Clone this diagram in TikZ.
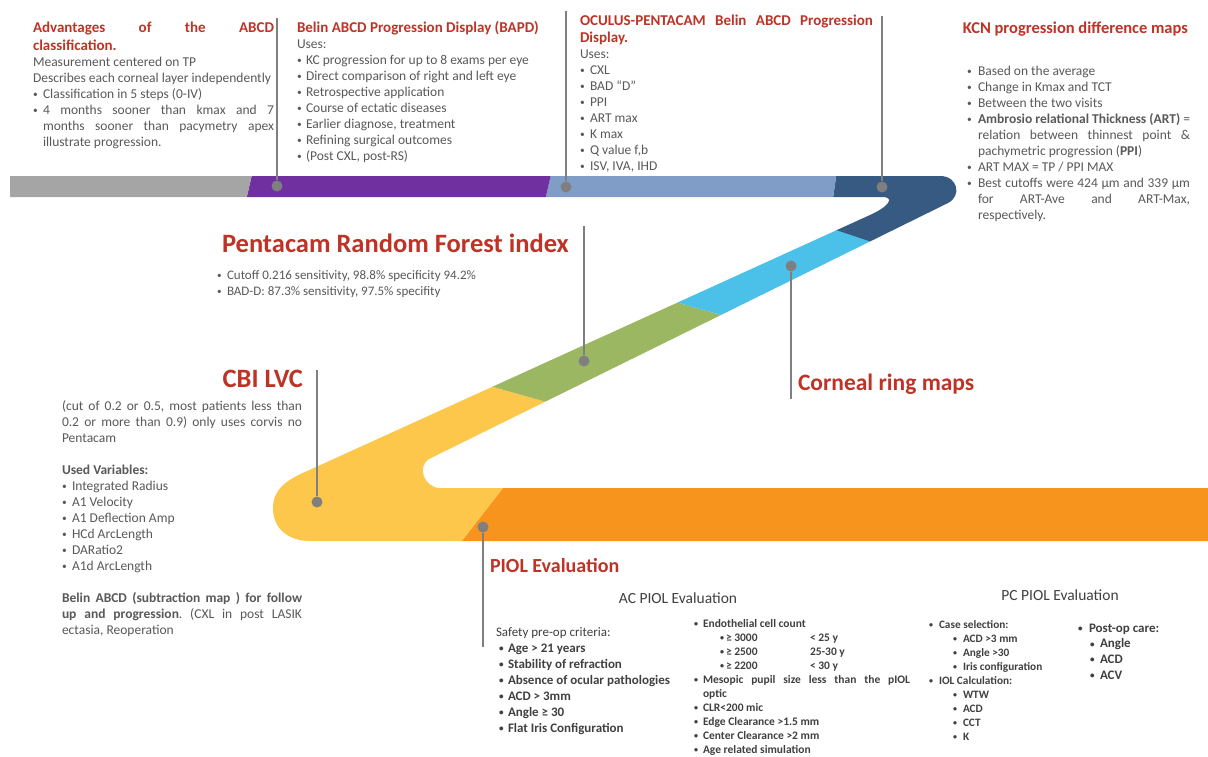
\documentclass[tikz,border=0pt]{standalone}
\usepackage{fontspec}
\setmainfont{Carlito}
\usepackage{graphicx}
\usetikzlibrary{arrows}

\definecolor{bandgray}{HTML}{A5A5A5}
\definecolor{bandpurple}{HTML}{7030A0}
\definecolor{bandsteel}{HTML}{7F9DC6}
\definecolor{bandnavy}{HTML}{375A82}
\definecolor{bandcyan}{HTML}{4BC1EA}
\definecolor{bandgreen}{HTML}{9CB762}
\definecolor{bandyellow}{HTML}{FCC74A}
\definecolor{bandorange}{HTML}{F7941D}
\definecolor{headred}{HTML}{BF3327}
\definecolor{bodygray}{HTML}{595959}
\definecolor{darkgray}{HTML}{404040}
\definecolor{pingray}{HTML}{7F7F7F}

\tolerance=9999 \emergencystretch=6pt
\hyphenpenalty=10000 \exhyphenpenalty=10000
\frenchspacing

\newcommand\dotmark{\raisebox{0.6pt}{\scalebox{0.7}{\textbullet}}}
\newcommand\itm[2][10pt]{\leftskip=0pt\hangindent=#1\hangafter=1\noindent\makebox[#1][l]{\dotmark}#2\par}
\newcommand\subitm[3]{\leftskip=#1\hangindent=#2\hangafter=1\noindent\makebox[#2][l]{\dotmark}#3\par}

\begin{document}
\begin{tikzpicture}[x=1pt,y=-1pt,
  txt/.style={inner sep=0pt,outer sep=0pt,anchor=base west,align=justify,text=bodygray,font=\fontsize{13.5}{16}\selectfont},
  head/.style={inner sep=0pt,outer sep=0pt,anchor=base west,text=headred,font=\fontsize{15}{18}\selectfont\bfseries},
  bighead/.style={head,font=\fontsize{26.5}{30}\selectfont\bfseries},
  pindot/.style={circle,fill=pingray,inner sep=0pt,minimum size=11pt},
  pinline/.style={draw=pingray,line width=2pt}]
  \path[use as bounding box,fill=white] (0,0) rectangle (1208,756);

  % the band
  \begin{scope}
    \clip (10,176) -- (940,176) .. controls (958,176) and (962,196) .. (948,203)
      -- (430,458.5) .. controls (416,465.4) and (424,488) .. (440,488)
      -- (1208,488) -- (1208,541) -- (310,541)
      .. controls (290,541) and (273,530) .. (273,508)
      .. controls (273,490) and (286,481) .. (300,474.3)
      -- (870,215) .. controls (888,207) and (896,197) .. (882,197)
      -- (10,197) -- cycle;
    \fill[bandorange] (517,470) -- (1220,470) -- (1220,560) -- (447,560) -- cycle;
    \fill[bandyellow] (430,369) -- (610,420) -- (517,470) -- (447,560) -- (250,560) -- (250,369) -- cycle;
    \fill[bandgreen] (620,286) -- (780,332) -- (610,420) -- (430,369) -- cycle;
    \fill[bandcyan] (800,218) -- (910,254) -- (780,332) -- (620,286) -- cycle;
    \fill[bandnavy] (837,170) -- (1000,170) -- (1000,284.7) -- (800,218) -- (832,205) -- cycle;
    \fill[bandsteel] (552,170) -- (837,170) -- (832,205) -- (544,205) -- cycle;
    \fill[bandpurple] (253,170) -- (552,170) -- (544,205) -- (245,205) -- cycle;
    \fill[bandgray] (0,170) -- (253,170) -- (245,205) -- (0,205) -- cycle;
  \end{scope}

  % pins
  \node[pindot] (pin1) at (277,186) {};
  \node[pindot] (pin2) at (566,187) {};
  \node[pindot] (pin3) at (882,187) {};
  \node[pindot] (pin4) at (584,361) {};
  \node[pindot] (pin5) at (791,266) {};
  \node[pindot] (pin6) at (317,502) {};
  \node[pindot] (pin7) at (483,527) {};
  \coordinate (end1) at (277,18);
  \coordinate (end2) at (566,11);
  \coordinate (end3) at (882,16);
  \coordinate (end4) at (584,226);
  \coordinate (end5) at (791,399);
  \coordinate (end6) at (317,370);
  \coordinate (end7) at (483,647);
  \path[pinline]
  (pin1) edge (end1)
  (pin2) edge (end2)
  (pin3) edge (end3)
  (pin4) edge (end4)
  (pin5) edge (end5)
  (pin6) edge (end6)
  (pin7) edge (end7);

  % top row
  \node[txt,text width=241pt] (advbox) at (33,32)
  {{\fontsize{15}{18}\selectfont\bfseries\color{headred}Advantages of the ABCD\linebreak classification.\par}
    Measurement centered on TP\par Describes each corneal layer independently\par
    \itm{Classification in 5 steps (0-IV)}
    \itm{4 months sooner than kmax and 7\linebreak months sooner than pacymetry apex\linebreak illustrate progression.}};
  \node[txt,text width=265pt] (bapdbox) at (297,32)
  {{\fontsize{15}{18}\selectfont\bfseries\color{headred}Belin ABCD Progression Display (BAPD)\par}
    Uses:\par
    \itm[9pt]{KC progression for up to 8 exams per eye}
    \itm[9pt]{Direct comparison of right and left eye}
    \itm[9pt]{Retrospective application}
    \itm[9pt]{Course of ectatic diseases}
    \itm[9pt]{Earlier diagnose, treatment}
    \itm[9pt]{Refining surgical outcomes}
    \itm[9pt]{(Post CXL, post-RS)}};
  \node[txt,text width=293pt] (ocubox) at (580,25)
  {{\fontsize{15}{17}\selectfont\bfseries\color{headred}OCULUS-PENTACAM Belin ABCD Progression\linebreak Display.\par}
    Uses:\par
    \itm{CXL}\itm{BAD “D”}\itm{PPI}\itm{ART max}\itm{K max}\itm{Q value f,b}\itm{ISV, IVA, IHD}};
  \node[head,anchor=base east,font=\fontsize{16.5}{18}\selectfont\bfseries] (kcntitle) at (1188,33) {KCN progression difference maps};
  \node[txt,text width=223pt] (kcnbox) at (967,75)
  {\itm[11pt]{Based on the average}
    \itm[11pt]{Change in Kmax and TCT}
    \itm[11pt]{Between the two visits}
    \itm[11pt]{\textbf{Ambrosio relational Thickness (ART)} =\linebreak relation between thinnest point \&\linebreak pachymetric progression (\textbf{PPI})}
    \itm[11pt]{ART MAX = TP / PPI MAX}
    \itm[11pt]{Best cutoffs were 424 µm and 339 µm\linebreak for ART-Ave and ART-Max,\linebreak respectively.}};

  % middle
  \node[bighead] (prftitle) at (222,252) {Pentacam Random Forest index};
  \node[txt,text width=340pt,font=\fontsize{13}{16.5}\selectfont] (prfbox) at (217,279)
  {\itm{Cutoff 0.216 sensitivity, 98.8\% specificity 94.2\%}
    \itm{BAD-D: 87.3\% sensitivity, 97.5\% specifity}};
  \node[bighead,anchor=base east] (cbititle) at (303,387) {CBI LVC};
  \node[txt,text width=240pt] (cbibox) at (62,410)
  {(cut of 0.2 or 0.5, most patients less than\linebreak 0.2 or more than 0.9) only uses corvis no\linebreak Pentacam\par\vskip16pt
    \textbf{Used Variables:}\par
    \itm{Integrated Radius}\itm{A1 Velocity}\itm{A1 Deflection Amp}
    \itm{HCd ArcLength}\itm{DARatio2}\itm{A1d ArcLength}\vskip16pt
    \textbf{Belin ABCD (subtraction map ) for follow\linebreak up and progression}. (CXL in post LASIK\linebreak ectasia, Reoperation\par};
  \node[head,font=\fontsize{23.5}{26}\selectfont\bfseries] (ringtitle) at (798,390) {Corneal ring maps};

  % bottom
  \node[head,font=\fontsize{20}{22}\selectfont\bfseries] (pioltitle) at (490,572) {PIOL Evaluation};
  \node[txt,anchor=base,text=darkgray,font=\fontsize{15.5}{17}\selectfont] (actitle) at (678,603) {AC PIOL Evaluation};
  \node[txt,text=darkgray,text width=190pt,font=\fontsize{13}{16}\selectfont] (acsafety) at (496,636)
  {Safety pre-op criteria:\par\bfseries
    \subitm{3pt}{9pt}{Age > 21 years}
    \subitm{3pt}{9pt}{Stability of refraction}
    \subitm{3pt}{9pt}{Absence of ocular pathologies}
    \subitm{3pt}{9pt}{ACD > 3mm}
    \subitm{3pt}{9pt}{Angle ≥ 30}
    \subitm{3pt}{9pt}{Flat Iris Configuration}};
  \node[txt,text=darkgray,text width=216pt,font=\fontsize{11.5}{14}\selectfont\bfseries] (acendo) at (694,627)
  {\itm[9pt]{Endothelial cell count}
    \subitm{26pt}{6pt}{\makebox[84pt][l]{≥ 3000}< 25 y}
    \subitm{26pt}{6pt}{\makebox[84pt][l]{≥ 2500}25-30 y}
    \subitm{26pt}{6pt}{\makebox[84pt][l]{≥ 2200}< 30 y}
    \itm[9pt]{Mesopic pupil size less than the pIOL\linebreak optic}
    \itm[9pt]{CLR<200 mic}
    \itm[9pt]{Edge Clearance >1.5 mm}
    \itm[9pt]{Center Clearance >2 mm}
    \itm[9pt]{Age related simulation}};
  \node[txt,anchor=base,text=darkgray,font=\fontsize{15.5}{17}\selectfont] (pctitle) at (1060,600) {PC PIOL Evaluation};
  \node[txt,text=darkgray,text width=140pt,font=\fontsize{11.3}{14}\selectfont\bfseries] (pccase) at (929,628)
  {\itm{Case selection:}
    \subitm{24pt}{10pt}{ACD >3 mm}
    \subitm{24pt}{10pt}{Angle >30}
    \subitm{24pt}{10pt}{Iris configuration}
    \itm{IOL Calculation:}
    \subitm{24pt}{10pt}{WTW}
    \subitm{24pt}{10pt}{ACD}
    \subitm{24pt}{10pt}{CCT}
    \subitm{24pt}{10pt}{K}};
  \node[txt,text=darkgray,text width=100pt,font=\fontsize{13}{15.7}\selectfont\bfseries] (pcpost) at (1078,632)
  {\itm[11pt]{Post-op care:}
    \subitm{12pt}{10pt}{Angle}
    \subitm{12pt}{10pt}{ACD}
    \subitm{12pt}{10pt}{ACV}};
\end{tikzpicture}
\end{document}
